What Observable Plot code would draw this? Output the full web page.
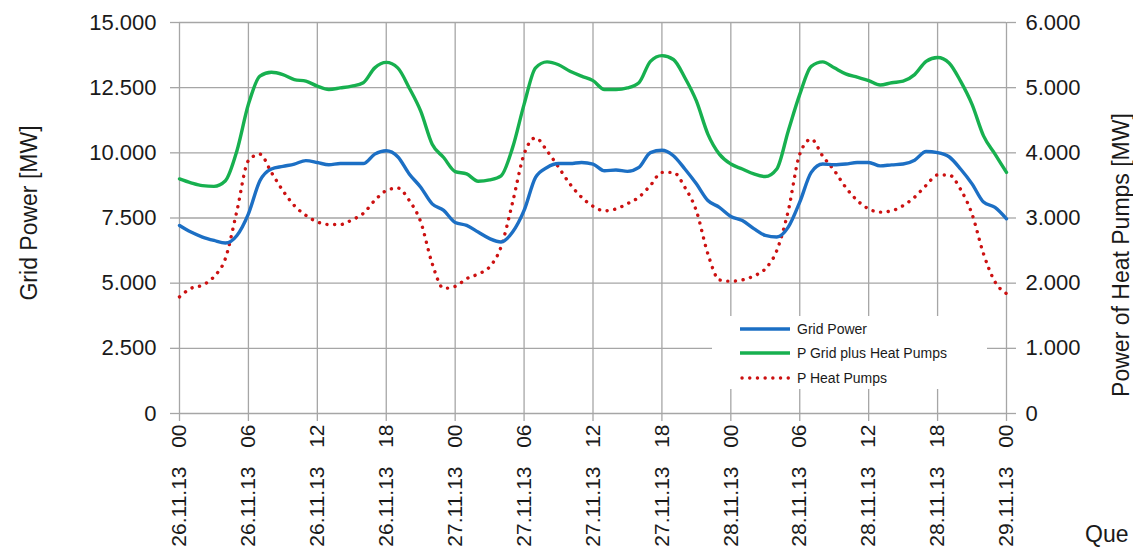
<!DOCTYPE html>
<html>
<head>
<meta charset="utf-8">
<script src="https://cdn.jsdelivr.net/npm/d3@7"></script>
<script src="https://cdn.jsdelivr.net/npm/@observablehq/plot@0.6"></script>
<style>
  html, body { margin: 0; padding: 0; background: #fff; overflow: hidden; }
  #wrap { position: relative; width: 1133px; height: 557px; font-family: "Liberation Sans", Arial, sans-serif; color: #1a1a1a; }
  #legend { position: absolute; left: 712px; top: 316px; width: 275px; height: 73px; background: #fff; }
  .row { position: absolute; left: 28px; height: 20px; display: flex; align-items: center; font-size: 14px; }
  .row svg { margin-right: 5px; }
  #que { position: absolute; left: 1085px; top: 521px; font-size: 23px; white-space: nowrap; }
</style>
</head>
<body>
<div id="wrap"></div>
<script>
// ---- data (hourly readings, 26.11.13 00:00 to 29.11.13 00:00) ----
const hours = Array.from({length: 73}, (_, i) => i);

const gridPower = [7215,6960,6770,6640,6540,6830,7660,8930,9380,9480,9570,9700,9630,9540,9590,9590,9590,9950,10080,9850,9190,8680,8040,7790,7330,
  7215,6960,6710,6580,6960,7790,9060,9440,9590,9590,9630,9570,9310,9340,9290,9440,10010,10100,9890,9380,8810,8170,7910,7560,
  7400,7090,6830,6770,7150,8110,9250,9570,9540,9570,9630,9630,9500,9540,9570,9720,10050,10010,9850,9380,8810,8110,7910,7470];

const gridPlusHeatPumps = [9000,8850,8740,8715,8930,10080,11860,12940,13090,13000,12810,12750,12560,12430,12490,12560,12690,13260,13470,13260,12490,11600,10330,9820,9280,
  9190,8910,8960,9120,10200,11860,13260,13490,13380,13130,12940,12770,12430,12430,12490,12690,13510,13730,13580,12880,11990,10720,9950,9570,
  9380,9190,9090,9380,10840,12240,13320,13490,13260,13030,12900,12770,12600,12690,12750,13000,13510,13660,13450,12750,11860,10650,9950,9250];

// heat pump power, right axis units (MW, 0..6000)
const heatPumps = [1790,1920,1970,2100,2380,3110,3880,3980,3700,3420,3190,3040,2940,2900,2900,2970,3070,3270,3420,3460,3270,2940,2300,1920,1950,
  2070,2140,2250,2560,3240,3980,4230,4030,3780,3520,3320,3180,3110,3140,3220,3320,3500,3700,3700,3470,3110,2450,2050,2030,
  2050,2110,2220,2500,3110,3980,4210,3950,3730,3470,3270,3140,3090,3110,3190,3320,3500,3660,3660,3440,3060,2450,2020,1840];

const tickHours = [0,6,12,18,24,30,36,42,48,54,60,66,72];
const hourLabels = ["00","06","12","18","00","06","12","18","00","06","12","18","00"];
const dateLabels = ["26.11.13","26.11.13","26.11.13","26.11.13","27.11.13","27.11.13","27.11.13","27.11.13","28.11.13","28.11.13","28.11.13","28.11.13","29.11.13"];
const leftTicks = [0,2500,5000,7500,10000,12500,15000];
const rightTicks = [0,1000,2000,3000,4000,5000,6000];

const seriesNames = ["Grid Power","P Grid plus Heat Pumps","P Heat Pumps"];
const seriesColors = ["#1c6fc4","#17b04f","#cc1111"];

// ---- build ----
const rightToLeft = 15000 / 6000;
const rows = hours.map((h, i) => ({h, grid: gridPower[i], total: gridPlusHeatPumps[i], hp: heatPumps[i]}));
const fmt = d3.formatLocale({decimal: ",", thousands: ".", grouping: [3], currency: ["", ""]}).format(",");
const gridColor = "#a6a6a6";
const txt = "#1a1a1a";

const chart = Plot.plot({
  width: 1133,
  height: 557,
  marginLeft: 179,
  marginRight: 127,
  marginTop: 22,
  marginBottom: 144,
  style: {fontFamily: "'Liberation Sans', Arial, sans-serif", color: txt, background: "#fff"},
  x: {domain: [0, 72]},
  y: {domain: [0, 15000]},
  marks: [
    Plot.gridY(leftTicks, {stroke: gridColor, strokeOpacity: 1, strokeWidth: 1.3}),
    Plot.gridX(tickHours, {stroke: gridColor, strokeOpacity: 1, strokeWidth: 1.3}),
    Plot.axisY({ticks: leftTicks, tickFormat: fmt, tickSize: 9, tickPadding: 14, fontSize: 22, color: txt, stroke: gridColor, strokeWidth: 1.3, label: null}),
    Plot.axisY({anchor: "right", ticks: rightTicks.map(v => v * rightToLeft), tickFormat: d => fmt(Math.round(d / rightToLeft)), tickSize: 9, tickPadding: 10, fontSize: 22, color: txt, stroke: gridColor, strokeWidth: 1.3, label: null}),
    Plot.axisX({ticks: tickHours, tickFormat: d => hourLabels[tickHours.indexOf(d)], tickRotate: -90, tickSize: 8, tickPadding: 3, fontSize: 21, color: txt, stroke: gridColor, strokeWidth: 1.3, label: null}),
    Plot.axisX({ticks: tickHours, tickFormat: d => dateLabels[tickHours.indexOf(d)], tickRotate: -90, tickSize: 0, tickPadding: 53, fontSize: 21, color: txt, label: null}),
    Plot.text(["Grid Power [MW]"], {text: d => d, frameAnchor: "left", textAnchor: "middle", dx: -150, dy: -5, rotate: -90, fontSize: 23, fill: txt}),
    Plot.text(["Power of Heat Pumps [MW]"], {text: d => d, frameAnchor: "right", textAnchor: "middle", dx: 115, dy: 37, rotate: -90, fontSize: 23, fill: txt}),
    Plot.lineY(rows, {x: "h", y: d => d.hp * rightToLeft, stroke: seriesColors[2], strokeWidth: 3.4, strokeDasharray: "0.1 7.6", strokeLinecap: "round", curve: "monotone-x"}),
    Plot.lineY(rows, {x: "h", y: "total", stroke: seriesColors[1], strokeWidth: 3.4, curve: "monotone-x"}),
    Plot.lineY(rows, {x: "h", y: "grid", stroke: seriesColors[0], strokeWidth: 3.4, curve: "monotone-x"})
  ]
});

const wrap = document.getElementById("wrap");
wrap.appendChild(chart);

// legend overlay
const legend = document.createElement("div");
legend.id = "legend";
const rowTops = [3, 27, 52];
seriesNames.forEach((name, i) => {
  const r = document.createElement("div");
  r.className = "row";
  r.style.top = rowTops[i] + "px";
  const dash = i === 2 ? 'stroke-dasharray="0.1 7.6" stroke-linecap="round"' : '';
  r.innerHTML = `<svg width="52" height="8"><line x1="${i === 2 ? 2 : 0}" y1="4" x2="50" y2="4" stroke="${seriesColors[i]}" stroke-width="3.4" ${dash}/></svg><span>${name}</span>`;
  legend.appendChild(r);
});
wrap.appendChild(legend);

const que = document.createElement("div");
que.id = "que";
que.textContent = "Que";
wrap.appendChild(que);
</script>
</body>
</html>
